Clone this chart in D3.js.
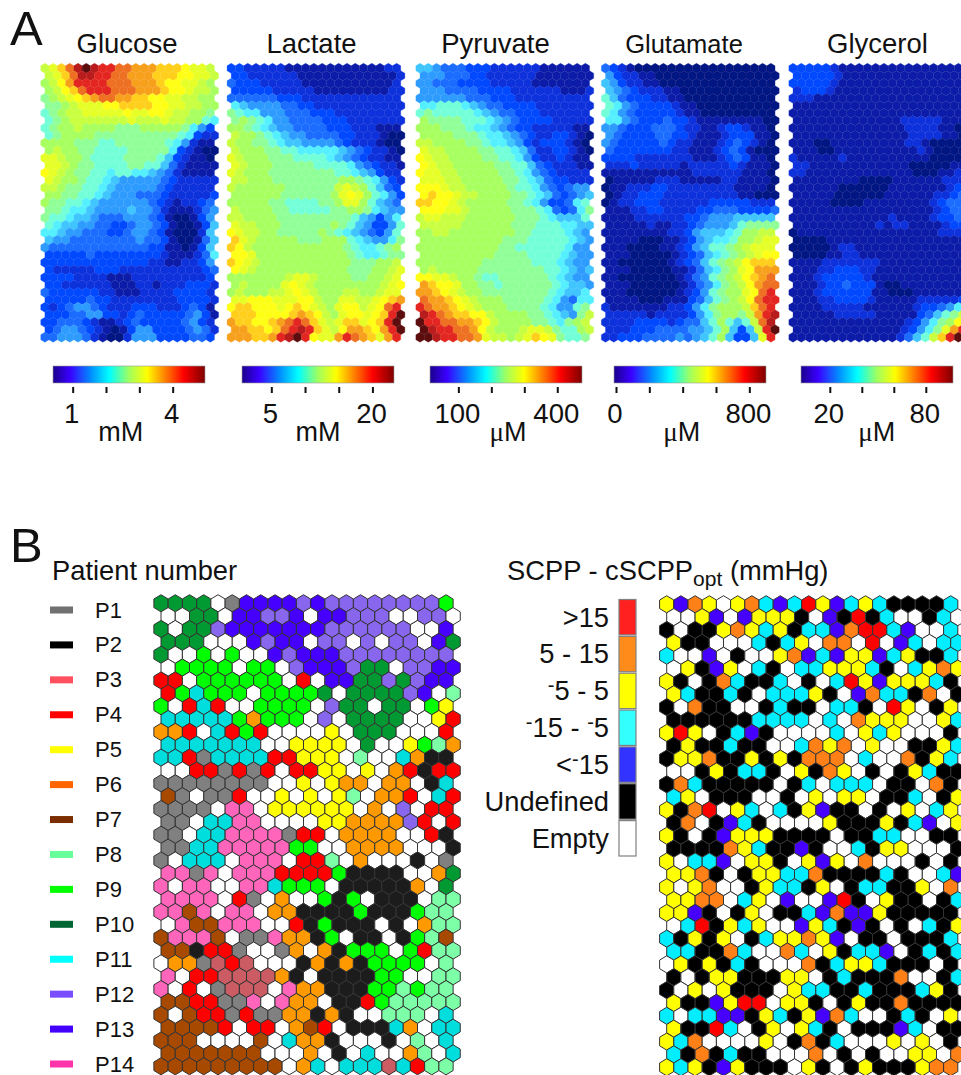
<!DOCTYPE html>
<html>
<head>
<meta charset="utf-8">
<title>SOM maps</title>
<script src="https://cdn.jsdelivr.net/npm/d3@7"></script>
<style>
    html, body { margin: 0; padding: 0; background: #fff; overflow: hidden; }
    svg { display: block; }
    text { font-family: "Liberation Sans", Arial, sans-serif; fill: #111; }
</style>
</head>
<body>
<svg id="chart" width="961" height="1075">
    <defs>
        <filter id="softHeat" x="-5%" y="-5%" width="110%" height="110%"><feGaussianBlur stdDeviation="0.7"/></filter>
        <filter id="softMap" x="-5%" y="-5%" width="110%" height="110%"><feGaussianBlur stdDeviation="0.35"/></filter>
    </defs>
</svg>
<script>
// Each string is one row of the map, one character per cell.
// Heat maps: 0-9 then a-j is the colour level, dark blue up to dark red.
const glucoseRows = [
    "bcegijihhggfffeeedccb", "bcegiihhggfffeeeddccb", "abdfhhhhgggfffeddccba", "abdeghhhgggfffeddcbba",
    "9abcdefggffeeddccbbaa", "99abcccddeeeeddccbbaa", "89abbcccccdccddcbbaa9", "89abbbbbbbcbbbcbbaa87",
    "89aabaaaa999aaaaa9753", "89aaaa999999999987322", "aaaa99988999999875211", "abaa99888899999732100",
    "ccbaa9888899998632110", "ccba99888899886421111", "dcba99887887765421111", "cbaa98876555554322222",
    "bba998876555554322222", "aa9988765554443222223", "a99887655555543212234", "998776555565542111245",
    "988766544455543100135", "876655443345543100136", "776554443345543100026", "655444444445443100146",
    "544444444444433110136", "333334333333332111247", "333333333333322112235", "322222333222222222234",
    "333322221112222222223", "332222221112212223332", "433333322111222233332", "333334332222222233332",
    "323455432223332223431", "333445533234333334531", "334443211234333334532", "345543210135533334542",
    "445554210025553333443"
];
const lactateRows = [
    "332222211111111111122", "332222221111111111112", "433322222111111111112", "333332222211111111122",
    "444444333222222222222", "765555443322222222222", "987755544433322222222", "9a9875544443332222222",
    "aa9876554444333222111", "baa987655444433222100", "baa998766555543222100", "baaa99887777765432210",
    "cbaaa9998888765432211", "cbaaa9999988887543221", "cbaaa9999999988765322", "bbaaa99999999aa987532",
    "baaaaaa999999bcba8643", "aaaaaa999999acdca8753", "aaaaa99888899acca8654", "baaaa998888899aa97655",
    "bbaaaa999999999865357", "cbbaaa999999a98653358", "dcbbaa99999a987654358", "ecbaaaaa999aaa8765579",
    "edbaaaaaaaaaaa987789a", "ddcaaaaaaaaaaa9877899", "edcbaaaaaaaaaaa999aab", "dcbaaaaaaaaaaa999aabc",
    "aaaaaaabccbaaaa99aabc", "abaaaacdcbaaaaaaaabcd", "abaaabbcdcbaaabbaabcc", "ccdddcccddbaaccbbcdef",
    "deedddcdedcbacddbcdgh", "eeeddddefedbacddcdehj", "feeddefghgecbceecdehj", "ffeedeghihecbdffedfhj",
    "fffeefhijhdccfhgfecfh"
];
const pyruvateRows = [
    "665444333222222111111", "555444332222221111111", "554443333222221111111", "555444433332222221112",
    "555555444333222222222", "778887654433332222222", "898888876544333222222", "a99998887654333322222",
    "aaa999877654332222211", "aaaa99987765432233210", "bbaaaa998776532333210", "cbbaaaa99887642233210",
    "dcbbaaaa9988753223211", "dcbbaaaaa998864322211", "dccbbaaaaa99875432222", "cccbbaaaaa99876433222",
    "dddcbbaaaaa9887543455", "deddcbbaaaa9987643456", "eeddcbaaaaa9987533478", "dddccbaaaaa9998743479",
    "bccbbbaaaaaa999876668", "bbbbbaaaaaa9998887766", "aabbaaaaaaaa998888765", "aaaaaaaaaa99988888765",
    "aaaaaaaaaa99888888755", "aaaaaaaaa999988887655", "aaaaaaaa9999998887655", "abaaaaa99999999887656",
    "ddccbaa98899999987655", "feddcaa99899999987665", "ffedcbaa9999999987667", "gffedcbaaa99999875477",
    "hgffedcbaaa9999875589", "ihgfeeddbaaaa9987659b", "jhhggffedbaaaa99879ab", "jihhggfdbaaabccb988ab",
    "jjihhggfcbbabcedc9889"
];
const glutamateRows = [
    "432100000000000000000", "532211000000000000000", "653221100000000000000", "654322211000000000000",
    "864333221100000000000", "875433332110000000000", "875433333211000000000", "775433343321111111100",
    "554333444322112332110", "543333443321112333110", "543333343221112343210", "433333332211123431000",
    "333322222221112343110", "222322222122222321110", "111111111112222221110", "011111222111112211110",
    "011222332222222211110", "012233322222222211000", "012233322222233333222", "111223322223344433334",
    "111122222233455566666", "111112112234555689999", "11111111223566678aabb", "1111000112356778aabcc",
    "1110000112356889abccc", "1110000012346789abcdd", "110000001234689abdeee", "111000001124679acdfff",
    "110000000124589abdefg", "111000000124579abdfgg", "111000000123589aacdgh", "111100011134689abdghh",
    "21111111223579aaabegh", "22222122223579aa9bfhi", "22223333234468a868bgi", "22233344445568a636bhj",
    "22333444454568a6336ch"
];
const glycerolRows = [
    "333332111111111111111", "333332111111111111111", "333332111111111111111", "233321111111111111111",
    "222111111111111111111", "111111111111111111111", "111111111111111111111", "111111111111122222111",
    "111111111111112222110", "111111111111112222110", "111001111111112210000", "111001111111111210000",
    "211111211111111110000", "221111111111110000011", "221111111111111000112", "111111110000111111222",
    "111111000000111111123", "111110000001111112234", "111110000111111112344", "111111111111111112344",
    "111111111111211112334", "111111111121221111233", "011111111111111111222", "000011111111111111111",
    "000001221111111111111", "000011221111111111111", "111122222221111111111", "111223332211111111111",
    "111233333211111111111", "111233433310011111111", "111233333311000111111", "111223333211111222223",
    "111122222111111233457", "11111222221111134689b", "1111111111111123579ad", "111111111111123579cfh",
    "11111111111112468behj"
];

// Patient map: one letter per patient, W = empty
const patientRows = [
    "DDDDWGUUUUVUVVVVVVVVL", "WWDDWUUVVUWUUVVVWWVVW", "DWDDVUUUUUUUVVVVVVWWU", "DDDWWWUVUUWVVWVWVVWUD",
    "DWWLWLWWUVUUUVVVVVVVV", "WLLLLWLLWVUUUVDDWVVUU", "RRWLLLLLLWRWUUDDVDVUU", "RLCLLLWLLLLDWDDDDVUWM",
    "LWRCRWWLLLLWVDDWDDWLY", "CCCCCLOLLLWVWDDDDWWYR", "OORWCRLRWWWWYWDDDWWWR", "CCCCCCCWWYYYYWDWWYLMO",
    "CCRGCCCCRRYYYWMWWCOKK", "WWRRGRGRWRRYYWYWORKRR", "GGGGGGGGWWYWYOOWOOWKC", "BGWGGRWWYWYWYMWOORWCR",
    "GGGGWHHWYYYYYYWOWVWRR", "GGWCCHHWWWWYYOOOOVRWR", "GGWCCHHHHGRRWOOOOWWRK", "GGCCHHHHHLLWWOOOOWWWK",
    "GWCCCWHHHWRRMWOWWWKWG", "HHGHWHHHRRRRLKKKKWWOD", "HWHHWWHHCLLLWKKKKKOWD", "HHHHWRGWOWWLKLWKKKWMM",
    "HHBHWHHWOOKKKKLKKKLMM", "WHBBHHHWWRKLKKKWKWOMM", "BHHHBWGGHOOKLWKKWKLMB", "BBKRRGWWGOWOKLLLWLRMM",
    "WOOGSRSWWWKOKOKLLLLWM", "HWRRSSSSOKWKKKKLLWWMM", "HWRWGSSSWHOOKKKLLMLMM", "BBRRGGHWHOOWKKRLMMMMM",
    "BWBRRGRGGOOKOKWWMMMWC", "BBBBRWRRWOBRWKKKCOWCC", "BBBWWWWBWCOOKWWWKWMWC", "BBBBBBBWWWOWKWCWWOMWC",
    "BBBBBBBBBWOCWCCCSCRMM"
];
const patientCodes = ["G", "K", "S", "R", "Y", "O", "B", "M", "L", "D", "C", "V", "U", "H", "W"];
const patientFills = ["#808080", "#1c1c1c", "#cc5b63", "#ff0000", "#ffff00", "#ff9900", "#a84a00", "#7dffa8",
    "#00ff00", "#009933", "#00dddd", "#8866ee", "#4400ff", "#ff66bb", "#ffffff"];
const patientNames = ["P1", "P2", "P3", "P4", "P5", "P6", "P7", "P8", "P9", "P10", "P11", "P12", "P13", "P14"];
const patientLegendColors = ["#707070", "#000000", "#ff5060", "#ff0000", "#ffff00", "#ff6600", "#7a2e00", "#66ff99",
    "#00ff00", "#006633", "#00ffff", "#7a4dff", "#4400ff", "#ff33aa"];

// SCPP map: R >15, O 5-15, Y -5-5, C -15--5, U <-15, K undefined, W empty
const scppRows = [
    "YUOYWYOCUCRYUCYCKKKKC", "WWYUWUYYYKWUKRKCWWKCW", "KWKKYOYCYKCCUORRCUWWC", "YKKWWWCKCYWOOWRWUCWCC",
    "CWWUWKWWYOUCUYYUCYKKC", "WYKUYWCKWCCYYYCKWCYOY", "YKWKOCKKCWKWCRYUYYYCK", "YCKKCKWCCCYKWUOCCKOWK",
    "KWOKKWWKCKKWCCKWRYWKY", "KKKKKKCCCCWCWOYYYWWYC", "YRYWKCUKWWWWCWYCYWWWK", "KYKKCKKWWCOYOWYWWKKYC",
    "KYYOKKYKYKOOOWCWWOKYC", "WWKYKCCKWYKOYWKWKYCKK", "KOCKKKKKWKCWCCCWKKWOK", "CYWKKKWWKWYWYYWKKCWKY",
    "YKORWYCWCKYUKKWKWYWCY", "KOWKUCKWWWWYKKKYKCUWY", "YKWKUYYYKKKKWKKCCWWKK", "KKKKOYCKKUKWWCKYYWWWK",
    "YWCCUWYYKWYUYWOWWWKWK", "YYOKWKYYCCOKKKKCKWWCU", "YWYOWWKYCCKYWKCCKKYWO", "YYOOWCYWUWWURKWYKKWKC",
    "YYUKWKYWKKCUOUUYKKKKK", "WCRKYCYWWUYCKUKWKWCKY", "CKYKYWKCYYOYUWKKWKKKC", "CCKKOCWWOCWYKCCUWKCKC",
    "WYKYKCKWWWOKCYYCKKKWK", "KWKYYKKKYYWKCKKKOWWKC", "KWYWYKKKWYCCKKCKKKCYK", "YKKUYRRWYYKWKYKKOKKKK",
    "CWCCUUKYCKYUOCWWKCKWY", "YKKRCWKYWYCKWKKKUCWKK", "YCOWWWWYWKOKCWWWYWYWK", "CKOKCKKWWWOWKWKWWYYWO",
    "YCYKUYKKKWYKWKYKKKYOO"
];
const scppCodes = ["R", "O", "Y", "C", "U", "K", "W"];
const scppFills = ["#ff0000", "#ff8018", "#ffff00", "#00eeff", "#4400ff", "#000000", "#ffffff"];
const scppLegendColors = ["#ff2020", "#ff8c1a", "#ffff00", "#33ffff", "#3333ff", "#000000", "#ffffff"];
const scppLabels = [">15", "5 - 15", "^5 - 5", "^15 - ^5", "<^15", "Undefined", "Empty"];

// Colour of each heat level
const heatLevels = ["#001482", "#0a1ea8", "#0a30dc", "#0048ff", "#1a6cff", "#2f9bff", "#3fc5ff", "#55f0ff",
    "#73ffd8", "#90ff98", "#a8ff60", "#c8ff40", "#e6ff28", "#ffff14", "#ffcf1e", "#f7a01f",
    "#ee6f20", "#e42820", "#b81a1a", "#5c0f0f"];
const jetStops = ["#1c0090", "#3a00ff", "#0090ff", "#00ffff", "#a0ff60", "#ffff00", "#ff8000", "#ff0000", "#800000"];
const jetPlaces = [0, 0.11, 0.25, 0.37, 0.5, 0.62, 0.74, 0.86, 1];

const titles = ["Glucose", "Lactate", "Pyruvate", "Glutamate", "Glycerol"];
const units = ["mM", "mM", "μM", "μM", "μM"];
const barDomains = [[0.41, 4.97], [0.65, 23.2], [14, 475], [-12, 900], [2, 97]];
const barTicks = [[1, 2, 3, 4], [5, 10, 15, 20], [100, 200, 300, 400], [0, 200, 400, 600, 800], [20, 40, 60, 80]];
const barLabels = [[1, 4], [5, 20], [100, 400], [0, 800], [20, 80]];
const heatRows = [glucoseRows, lactateRows, pyruvateRows, glutamateRows, glycerolRows];

const svg = d3.select("#chart");
const nRows = 37, nCols = 21;

const heatX = [44.9, 231.2, 420, 605.5, 793];
const titleX = [127, 311.5, 495.5, 684, 877.5];
const titleSize = [27.5, 27.5, 27.5, 25.5, 27.5];
const barX = [53, 242, 430, 614, 801];
const unitX = [120.7, 318, 508, 681.7, 876.7];

drawPanelA();
drawPanelB();

function hexPath(w, h) {
    const pts = [[0, -h / 2], [w / 2, -h / 4], [w / 2, h / 4], [0, h / 2], [-w / 2, h / 4], [-w / 2, -h / 4]];
    return d3.line()(pts) + "Z";
}

// rows of strings -> one hexagon per character
function drawHexMap(rows, x0, y0, dx, dy, fill, stroke, strokeWidth, filter) {
    const x = d3.scaleLinear().domain([0, nCols - 1]).range([x0, x0 + dx * (nCols - 1)]);
    const y = d3.scaleLinear().domain([0, nRows - 1]).range([y0, y0 + dy * (nRows - 1)]);
    const cells = rows.flatMap((row, r) => Array.from(row, (code, c) => ({ r, c, code })));

    svg.append("g").attr("filter", filter).selectAll("path")
        .data(cells)
        .join("path")
        .attr("d", hexPath(dx, dy * 4 / 3))
        .attr("transform", d => `translate(${x(d.c) + (d.r % 2 ? dx / 2 : 0)},${y(d.r)})`)
        .attr("fill", d => fill(d.code))
        .attr("stroke", stroke || (d => fill(d.code)))
        .attr("stroke-width", strokeWidth);
}

function drawPanelA() {
    svg.append("text").attr("x", 10).attr("y", 45).attr("font-size", 49).text("A");

    const jet = d3.scaleLinear().domain(jetPlaces).range(jetStops);

    titles.forEach((title, i) => {
        svg.append("text")
            .attr("x", titleX[i]).attr("y", 53)
            .attr("text-anchor", "middle")
            .attr("font-size", titleSize[i])
            .text(title);

        drawHexMap(heatRows[i], heatX[i], 68.3, 8.27, 7.47,
            code => heatLevels[parseInt(code, 36)], null, 0.3, "url(#softHeat)");

        // colour bar
        const barScale = d3.scaleLinear().domain(barDomains[i]).range([barX[i], barX[i] + 152]);
        const steps = d3.range(0, 152);
        svg.append("g").selectAll("rect")
            .data(steps)
            .join("rect")
            .attr("x", d => barX[i] + d)
            .attr("y", 366)
            .attr("width", d => d < 151 ? 1.5 : 1)
            .attr("height", 17)
            .attr("fill", d => jet(d / 151));
        svg.append("rect")
            .attr("x", barX[i]).attr("y", 366)
            .attr("width", 152).attr("height", 17)
            .attr("fill", "none")
            .attr("stroke", "#999")
            .attr("stroke-width", 0.6);

        const axis = d3.axisBottom(barScale)
            .tickValues(barTicks[i])
            .tickSize(6)
            .tickFormat(d => barLabels[i].includes(d) ? d : "");
        const g = svg.append("g").attr("transform", "translate(0,387)").call(axis);
        g.select(".domain").remove();
        g.selectAll(".tick line").attr("stroke", "#111").attr("stroke-width", 2);
        g.selectAll(".tick text")
            .attr("y", 36).attr("dy", 0).attr("dx", -1.5)
            .attr("font-size", 27.5)
            .style("font-family", '"Liberation Sans", Arial, sans-serif')
            .attr("fill", "#111");

        const unit = svg.append("text")
            .attr("x", unitX[i]).attr("y", 441)
            .attr("text-anchor", "middle")
            .attr("font-size", 27);
        if (units[i][0] === "μ") {
            unit.append("tspan").style("font-family", '"Liberation Serif", serif').text("μ");
            unit.append("tspan").text(units[i].slice(1));
        } else {
            unit.text(units[i]);
        }
    });
}

function drawPanelB() {
    svg.append("text").attr("x", 10).attr("y", 562).attr("font-size", 49).text("B");

    // patient map and legend
    svg.append("text").attr("x", 52).attr("y", 580).attr("font-size", 27.3).text("Patient number");

    const patientColor = d3.scaleOrdinal().domain(patientCodes).range(patientFills);
    drawHexMap(patientRows, 161, 603.3, 14.25, 12.86, patientColor, "#333", 1, "url(#softMap)");

    const legendY = d3.scalePoint().domain(patientNames).range([610, 1064]);
    const pLegend = svg.append("g").selectAll("g")
        .data(patientNames)
        .join("g")
        .attr("transform", d => `translate(0,${legendY(d)})`);
    pLegend.append("rect")
        .attr("x", 50).attr("y", -3.5)
        .attr("width", 23).attr("height", 7)
        .attr("fill", (d, i) => patientLegendColors[i]);
    pLegend.append("text")
        .attr("x", 95).attr("y", 7.5)
        .attr("font-size", 22)
        .text(d => d);

    // SCPP map and legend
    const head = svg.append("text").attr("x", 507).attr("y", 580).attr("font-size", 27.3);
    head.append("tspan").text("SCPP - cSCPP");
    head.append("tspan").attr("dy", 6).attr("font-size", 21).text("opt");
    head.append("tspan").attr("dy", -6).text(" (mmHg)");

    const scppColor = d3.scaleOrdinal().domain(scppCodes).range(scppFills);
    drawHexMap(scppRows, 666.7, 604.3, 14.2, 12.86, scppColor, "#333", 1, "url(#softMap)");

    const boxY = d3.scaleBand().domain(scppLabels).range([599.5, 856]).paddingInner(0.04);
    svg.append("g").selectAll("rect")
        .data(scppLabels)
        .join("rect")
        .attr("x", 619).attr("y", d => boxY(d))
        .attr("width", 17).attr("height", boxY.bandwidth())
        .attr("fill", (d, i) => scppLegendColors[i])
        .attr("stroke", "#808080")
        .attr("stroke-width", 1.2);

    svg.append("g").selectAll("text")
        .data(scppLabels)
        .join("text")
        .attr("x", 609).attr("y", d => boxY(d) + 27)
        .attr("text-anchor", "end")
        .attr("font-size", 27.3)
        .each(function(d) {
            // ^ in a label stands for the small raised minus
            const t = d3.select(this);
            d.split("^").forEach((part, i) => {
                if (i > 0) {
                    t.append("tspan").attr("dy", -8).attr("font-size", 20).text("-");
                    t.append("tspan").attr("dy", 8).text(part);
                } else if (part) {
                    t.append("tspan").text(part);
                }
            });
        });
}
</script>
</body>
</html>
